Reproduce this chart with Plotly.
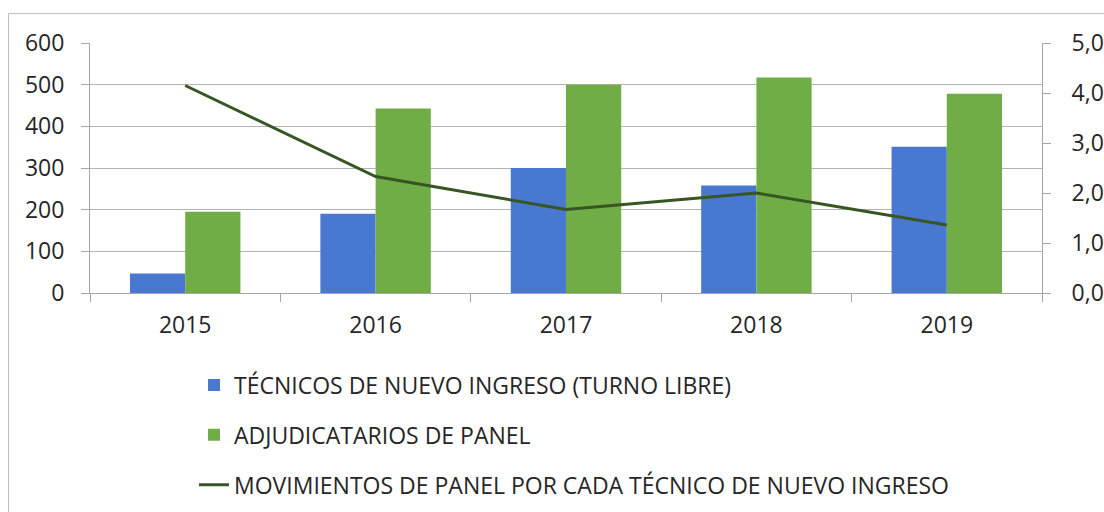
import plotly.graph_objects as go

years = ["2015", "2016", "2017", "2018", "2019"]
tecnicos = [47, 190, 300, 258, 351]
adjudicatarios = [195, 443, 500, 517, 478]
movimientos = [4.15, 2.33, 1.67, 2.00, 1.36]

names = [
    "TÉCNICOS DE NUEVO INGRESO (TURNO LIBRE)",
    "ADJUDICATARIOS DE PANEL",
    "MOVIMIENTOS DE PANEL POR CADA TÉCNICO DE NUEVO INGRESO",
]

FONT = "Open Sans"
AX = "#a6a6a6"

fig = go.Figure()
fig.add_trace(go.Bar(x=years, y=tecnicos, name=names[0], marker_color="#4878cf",
                     marker_line_width=0, legendgroup="a"))
fig.add_trace(go.Bar(x=years, y=adjudicatarios, name=names[1], marker_color="#70ad47",
                     marker_line_width=0, legendgroup="b"))
fig.add_trace(go.Scatter(x=years, y=movimientos, name=names[2], mode="lines",
                         line=dict(color="#375623", width=3), yaxis="y2", legendgroup="c"))

L, R, T, B = 90, 1042, 43, 293.5
W, H = 1104, 512
PH = B - T
fig.update_layout(
    width=W, height=H,
    margin=dict(l=L, r=W - R, t=T, b=H - B, pad=0, autoexpand=False),
    paper_bgcolor="white", plot_bgcolor="white",
    font=dict(family=FONT, size=23, color="#262626"),
    separators=",.",
    barmode="group", bargap=0.42, bargroupgap=0,
    showlegend=True,
    legend=dict(orientation="v", xref="container", yref="container",
                x=194 / W, xanchor="left",
                y=1 - 363.5 / H, yanchor="top", tracegroupgap=17,
                font=dict(family=FONT, size=23, color="#262626"),
                bgcolor="rgba(0,0,0,0)"),
    xaxis=dict(type="category", showline=True, linecolor=AX, linewidth=1,
               ticks="outside", ticklen=8, tickcolor=AX, tickson="boundaries",
               showgrid=False, tickfont=dict(size=23), ticklabelstandoff=11,
               automargin=False),
    yaxis=dict(range=[0, 600], dtick=100, showline=True, linecolor=AX,
               ticks="outside", ticklen=8, tickcolor=AX, showgrid=True,
               gridcolor="#b3b3b3", gridwidth=1, zeroline=False,
               tickfont=dict(size=23), ticklabelstandoff=12, automargin=False),
    yaxis2=dict(range=[0, 5], dtick=1, tickformat=".1f", overlaying="y", side="right",
                showline=True, linecolor=AX, ticks="outside", ticklen=8, tickcolor=AX,
                showgrid=False, zeroline=False, tickfont=dict(size=23),
                ticklabelstandoff=16, automargin=False),
    shapes=[dict(type="rect", xref="paper", yref="paper",
                 x0=(8.5 - L) / (R - L), x1=1.2, y0=-1.5,
                 y1=(B - 13.5) / PH,
                 line=dict(color="#bfbfbf", width=1), fillcolor="rgba(0,0,0,0)", layer="below")],
)

fig.write_html(
    "out.html",
    config={"displayModeBar": False},
    post_script="document.body.style.margin='0';document.documentElement.style.overflow='hidden';",
)
